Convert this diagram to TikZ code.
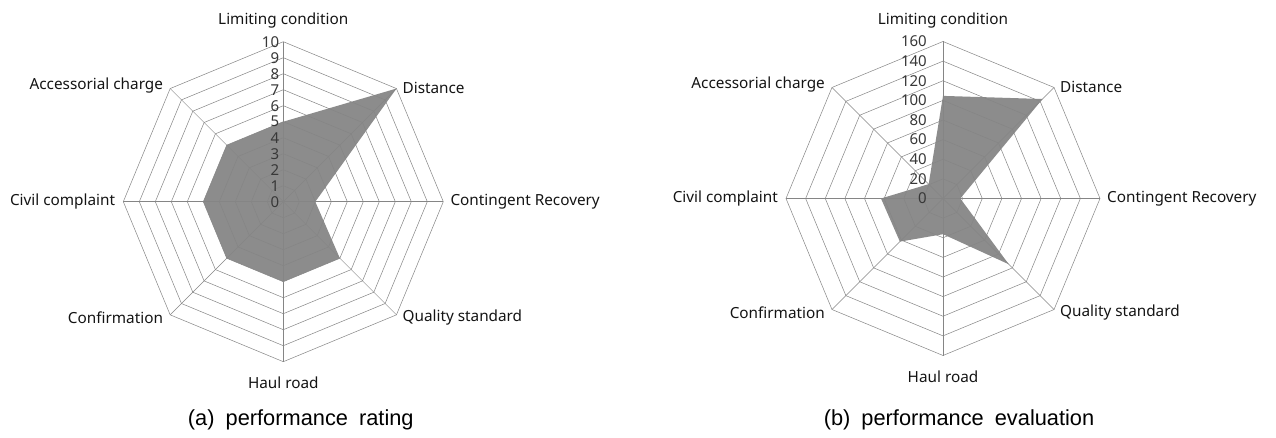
\documentclass[tikz,border=0pt]{standalone}
\usepackage{fontspec}
\setmainfont{Noto Sans}
\newfontfamily\capfont{Liberation Sans}
\usepackage{tikz}

\tikzset{
  gridline/.style={black!48, line width=0.5pt},
  datafill/.style={fill=black!45},
  ticklab/.style={anchor=east, inner sep=0pt, text=black!78, font=\fontsize{15}{16}\selectfont},
  axislab/.style={inner sep=0pt, text=black!92, font=\fontsize{15.3}{17}\selectfont},
  caption/.style={inner sep=0pt, font=\capfont\fontsize{21.8}{24}\selectfont}
}

\begin{document}
\begin{tikzpicture}[x=1pt, y=-1pt]
  \useasboundingbox[fill=white] (0,0) rectangle (1276,438);
  \coordinate (ca) at (283.3,201.7);
  \coordinate (cb) at (943,198.5);

  % data polygons
  \fill[datafill] ([shift={(-90:80)}]ca) -- ([shift={(-45:160)}]ca) -- ([shift={(0:32)}]ca)
    -- ([shift={(45:80)}]ca) -- ([shift={(90:80)}]ca) -- ([shift={(135:80)}]ca)
    -- ([shift={(180:80)}]ca) -- ([shift={(225:80)}]ca) -- cycle;
  \fill[datafill] ([shift={(-90:102.6)}]cb) -- ([shift={(-45:140.7)}]cb) -- ([shift={(0:17.3)}]cb)
    -- ([shift={(45:93)}]cb) -- ([shift={(90:35.7)}]cb) -- ([shift={(135:61)}]cb)
    -- ([shift={(180:62)}]cb) -- ([shift={(225:20.3)}]cb) -- cycle;

  % rings and spokes
  \foreach \c/\r/\n in {ca/160/10, cb/157/8} {
    \foreach \k in {1,...,\n}
      \draw[gridline] ([shift={(-90:\k*\r/\n)}]\c)
        \foreach \i in {1,...,7} { -- ([shift={(-90+45*\i:\k*\r/\n)}]\c) } -- cycle;
    \foreach \i in {0,...,7}
      \draw[gridline] (\c) -- ([shift={(-90+45*\i:\r)}]\c);
  }

  % scale values
  \foreach \v in {0,...,10}
    \node[ticklab] (ta\v) at ([shift={(-4,-\v*16)}]ca) {\v};
  \foreach \v [count=\k from 0] in {0,20,...,160}
    \node[ticklab] (tb\k) at ([shift={(-16,-\k*19.625)}]cb) {\v};

  % axis labels
  \foreach \c/\r in {ca/160, cb/157} {
    \node[axislab] (\c-lim) at ([shift={(0,-\r-21)}]\c) {Limiting condition};
    \node[axislab, anchor=west] (\c-dis) at ([shift={({0.7071*\r+6},{-0.7071*\r-1})}]\c) {Distance};
    \node[axislab, anchor=west] (\c-con) at ([shift={(\r+7,0)}]\c) {Contingent Recovery};
    \node[axislab, anchor=west] (\c-qua) at ([shift={({0.7071*\r+6},{0.7071*\r+3})}]\c) {Quality standard};
    \node[axislab] (\c-hau) at ([shift={(0,\r+21)}]\c) {Haul road};
    \node[axislab, anchor=east] (\c-cnf) at ([shift={({-0.7071*\r-7},{0.7071*\r+3})}]\c) {Confirmation};
    \node[axislab, anchor=east] (\c-civ) at ([shift={(-\r-8,0)}]\c) {Civil complaint};
    \node[axislab, anchor=east] (\c-acc) at ([shift={({-0.7071*\r-7},{-0.7071*\r-3})}]\c) {Accessorial charge};
  }

  \node[caption] (capa) at (300.8,420) {(a)\hspace{5pt} performance\hspace{5pt} rating};
  \node[caption] (capb) at (959,420) {(b)\hspace{5pt} performance\hspace{5pt} evaluation};
\end{tikzpicture}
\end{document}
